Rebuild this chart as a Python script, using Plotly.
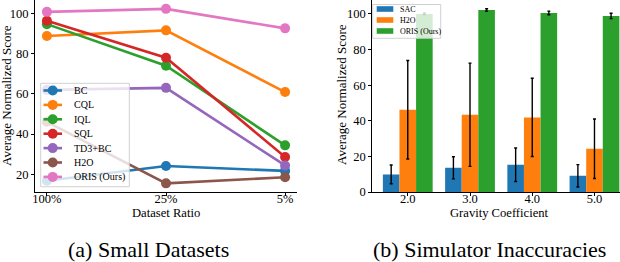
import plotly.graph_objects as go

# ---------------- data ----------------
ratios = ["100%", "25%", "5%"]
methods = ["BC", "CQL", "IQL", "SQL", "TD3+BC", "H2O", "ORIS (Ours)"]
bc = [16.8, 24.1, 21.7]
cql = [88.8, 91.6, 60.9]
iql = [94.7, 74.0, 34.4]
sql = [96.4, 78.0, 28.6]
td3bc = [62.0, 63.0, 24.4]
h2o = [46.1, 15.5, 18.5]
oris = [100.8, 102.3, 92.6]
small_series = [bc, cql, iql, sql, td3bc, h2o, oris]

gravity = ["2.0", "3.0", "4.0", "5.0"]
bar_methods = ["SAC", "H2O", "ORIS (Ours)"]
sac_mean = [9.9, 13.6, 15.3, 9.1]
sac_err = [5.3, 6.2, 9.4, 6.3]
h2o_mean = [46.2, 43.4, 41.9, 24.3]
h2o_err = [27.7, 29.0, 22.0, 16.7]
oris_mean = [100.0, 102.2, 100.6, 98.9]
oris_err = [0.5, 0.7, 1.0, 1.5]
bar_means = [sac_mean, h2o_mean, oris_mean]
bar_errs = [sac_err, h2o_err, oris_err]

# ---------------- style ----------------
W, H = 620, 262
FONT = "Liberation Serif, Times New Roman, Times, serif"
colors = ["#1f77b4", "#ff7f0e", "#2ca02c", "#d62728", "#9467bd", "#8c564b", "#e377c2"]
bar_colors = ["#1f77b4", "#ff7f0e", "#2ca02c"]

def px(x):
    return x / W

def py(y):
    return 1 - y / H

fig = go.Figure()

# left: line chart
for name, vals, c in zip(methods, small_series, colors):
    fig.add_trace(go.Scatter(
        x=list(range(len(ratios))), y=vals, mode="lines+markers", name=name,
        line=dict(color=c, width=2.6), marker=dict(color=c, size=10),
        xaxis="x", yaxis="y", showlegend=False, cliponaxis=False))

# right: bar chart
for name, m, e, c in zip(bar_methods, bar_means, bar_errs, bar_colors):
    fig.add_trace(go.Bar(
        x=list(range(len(gravity))), y=m, name=name, marker=dict(color=c, line=dict(width=0)),
        error_y=dict(type="data", array=e, color="black", thickness=1.4, width=1.5),
        xaxis="x2", yaxis="y2", showlegend=False))

ydom = [py(192), 1.0]
axis_common = dict(showline=True, linecolor="black", linewidth=1, ticks="outside",
                   ticklen=3, tickwidth=1, tickcolor="black", showgrid=False, zeroline=False,
                   automargin=False,
                   tickfont=dict(family=FONT, size=12.5, color="black"))

fig.update_layout(
    width=W, height=H, margin=dict(l=0, r=0, t=0, b=0, pad=0, autoexpand=False),
    paper_bgcolor="white", plot_bgcolor="white",
    font=dict(family=FONT, color="black"),
    barmode="group", bargap=0.2, bargroupgap=0.0,
    xaxis=dict(domain=[px(35), px(297)], range=[-0.1, 2.1], tickvals=[0, 1, 2],
               ticktext=ratios, anchor="y", ticklabelstandoff=-8, **axis_common),
    yaxis=dict(domain=ydom, range=[11.2, 106.7], tickvals=[20, 40, 60, 80, 100],
               anchor="x", **axis_common),
    xaxis2=dict(domain=[px(372.3), 1.0], range=[-0.57, 3.41], tickvals=[0, 1, 2, 3],
                ticktext=gravity, anchor="y2", ticklabelstandoff=-8, **axis_common),
    yaxis2=dict(domain=ydom, range=[0, 107.85], tickvals=[0, 20, 40, 60, 80, 100],
                anchor="x2", **axis_common),
)

shapes = []
annotations = []

# left legend (manual, matplotlib style)
shapes.append(dict(type="rect", xref="paper", yref="paper", x0=px(40.7), x1=px(129.3),
                   y0=py(186.7), y1=py(83.3), fillcolor="rgba(255,255,255,0.8)",
                   line=dict(color="rgba(204,204,204,0.9)", width=1), layer="above"))
for i, (name, c) in enumerate(zip(methods, colors)):
    yy = 90.5 + 14.4 * i
    shapes.append(dict(type="line", xref="paper", yref="paper", x0=px(43.5), x1=px(62),
                       y0=py(yy), y1=py(yy), line=dict(color=c, width=2.6), layer="above"))
    shapes.append(dict(type="circle", xref="paper", yref="paper", xsizemode="pixel",
                       ysizemode="pixel", xanchor=px(52.7), yanchor=py(yy), x0=-5, x1=5,
                       y0=-5, y1=5, fillcolor=c, line=dict(color=c, width=0), layer="above"))
    annotations.append(dict(text=name, xref="paper", yref="paper", x=px(72), y=py(yy),
                            xanchor="left", yanchor="middle", showarrow=False,
                            font=dict(family=FONT, size=10, color="black")))

# right legend
shapes.append(dict(type="rect", xref="paper", yref="paper", x0=px(372.7), x1=px(440.7),
                   y0=py(38.3), y1=py(4.5), fillcolor="rgba(255,255,255,0.8)",
                   line=dict(color="rgba(204,204,204,0.9)", width=1), layer="above"))
for i, (name, c) in enumerate(zip(bar_methods, bar_colors)):
    yy = 9 + 11 * i
    shapes.append(dict(type="rect", xref="paper", yref="paper", x0=px(376.7), x1=px(393.3),
                       y0=py(yy + 2.8), y1=py(yy - 2.8), fillcolor=c, line=dict(width=0),
                       layer="above"))
    annotations.append(dict(text=name, xref="paper", yref="paper", x=px(397.5), y=py(yy),
                            xanchor="left", yanchor="middle", showarrow=False,
                            font=dict(family=FONT, size=8, color="black")))

# axis titles
annotations += [
    dict(text="Dataset Ratio", xref="paper", yref="paper", x=px(166), y=py(213),
         xanchor="center", yanchor="middle", showarrow=False, font=dict(family=FONT, size=12.6)),
    dict(text="Gravity Coefficient", xref="paper", yref="paper", x=px(500), y=py(213),
         xanchor="center", yanchor="middle", showarrow=False, font=dict(family=FONT, size=12.6)),
    dict(text="Average Normalized Score", xref="paper", yref="paper", x=px(7), y=py(96),
         xanchor="center", yanchor="middle", textangle=-90, showarrow=False,
         font=dict(family=FONT, size=13)),
    dict(text="Average Normalized Score", xref="paper", yref="paper", x=px(341), y=py(95),
         xanchor="center", yanchor="middle", textangle=-90, showarrow=False,
         font=dict(family=FONT, size=13)),
    dict(text="(a) Small Datasets", xref="paper", yref="paper", x=px(148), y=py(249),
         xanchor="center", yanchor="middle", showarrow=False, font=dict(family=FONT, size=22)),
    dict(text="(b) Simulator Inaccuracies", xref="paper", yref="paper", x=px(489), y=py(249),
         xanchor="center", yanchor="middle", showarrow=False, font=dict(family=FONT, size=22)),
]

fig.update_layout(shapes=shapes, annotations=annotations)
fig.write_html("out.html", config={"displayModeBar": False},
               post_script="document.body.style.margin='0';")
